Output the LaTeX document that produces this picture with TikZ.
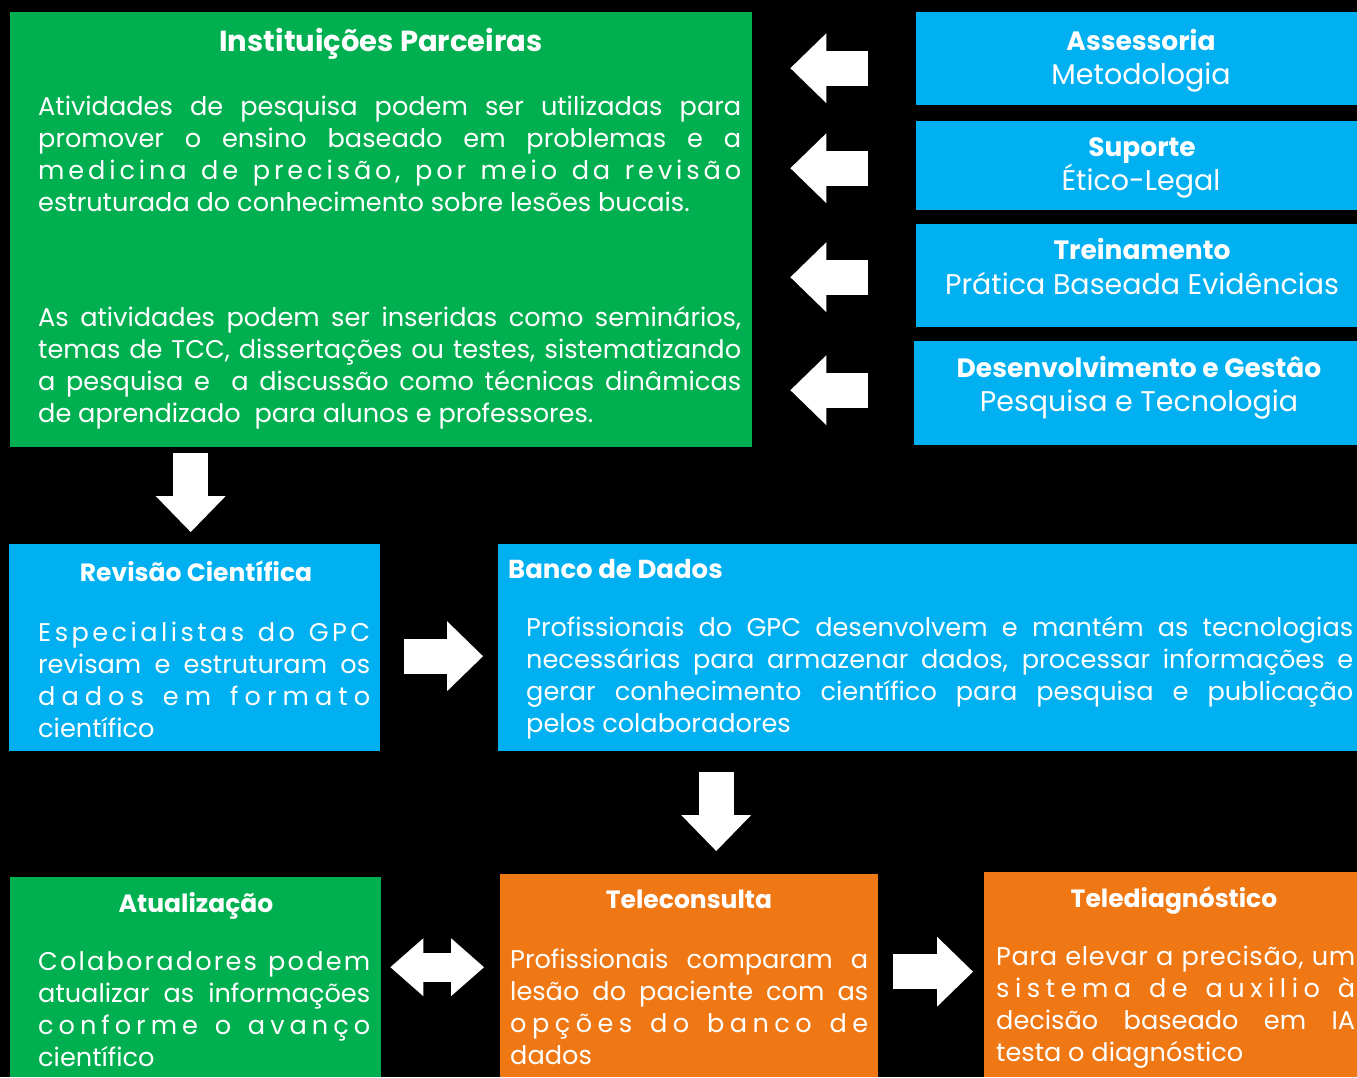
\documentclass[tikz,border=0pt]{standalone}
\usepackage{fontspec}
\setmainfont{Poppins}
\usetikzlibrary{arrows.meta}

\definecolor{gpcgreen}{HTML}{00B050}
\definecolor{gpcblue}{HTML}{00B0F0}
\definecolor{gpcorange}{HTML}{F07814}

\newcommand{\bodyfont}{\fontsize{25.6}{32}\selectfont}
% letter-spread line, as in the source slide
\newcommand{\sprd}[1]{\makebox[\linewidth][s]{\sprdfirst#1\relax}}
\def\sprdfirst#1{#1\sprdloop}
\def\sprdloop#1{\ifx#1\relax\else\hskip0pt plus1fil minus1fil\relax#1\expandafter\sprdloop\fi}

\tikzstyle{box} = [rectangle, inner sep=0pt, anchor=north west]
\tikzstyle{title} = [inner sep=0pt, anchor=base, text=white, font=\bfseries\fontsize{26.5}{30}\selectfont]
\tikzstyle{smalltitle} = [title, font=\bfseries\fontsize{25}{30}\selectfont]
\tikzstyle{sidetext} = [inner sep=0pt, anchor=base, text=white, font=\fontsize{28.5}{34}\selectfont]
\tikzstyle{para} = [inner sep=0pt, anchor=base west, text=white, align=justify, font=\bodyfont]
\tikzstyle{arrow} = [white, line width=35pt, -{Triangle[length=36pt, width=70pt, line width=0pt]}]
\tikzstyle{dblarrow} = [white, line width=29pt, {Triangle[length=33pt, width=58pt, line width=0pt]}-{Triangle[length=33pt, width=58pt, line width=0pt]}]

\begin{document}
\begin{tikzpicture}[x=1pt, y=-1pt]
            \useasboundingbox (0,0) rectangle (1357,1077);
            \fill [black] (0,0) rectangle (1357,1077);

            % boxes
            \node [box, fill=gpcgreen, minimum width=742pt, minimum height=435pt] at (10,12) (partners) {};
            \node [box, fill=gpcblue, minimum width=441pt, minimum height=93pt] at (916,12) (assess) {};
            \node [box, fill=gpcblue, minimum width=441pt, minimum height=89pt] at (916,121) (support) {};
            \node [box, fill=gpcblue, minimum width=441pt, minimum height=103pt] at (916,224) (training) {};
            \node [box, fill=gpcblue, minimum width=443pt, minimum height=104pt] at (914,341) (devel) {};
            \node [box, fill=gpcblue, minimum width=371pt, minimum height=207pt] at (9,544) (review) {};
            \node [box, fill=gpcblue, minimum width=859pt, minimum height=207pt] at (498,544) (database) {};
            \node [box, fill=gpcgreen, minimum width=371pt, minimum height=200pt] at (10,877) (update) {};
            \node [box, fill=gpcorange, minimum width=378pt, minimum height=203pt] at (500,874) (teleconsult) {};
            \node [box, fill=gpcorange, minimum width=373pt, minimum height=205pt] at (984,872) (telediag) {};

            % texts
            \node [title, font=\bfseries\fontsize{29}{30}\selectfont] at (381,51) (partnersT) {Instituições Parceiras};
            \node [para, text width=703pt] at (38,115) (partnersA) {Atividades de pesquisa podem ser utilizadas para\linebreak promover o ensino baseado em problemas e a\linebreak \sprd{medicina~de~precisão,~por~meio~da~revisão}\linebreak estruturada do conhecimento sobre lesões bucais.};
            \node [para, text width=703pt] at (38,326) (partnersB) {As atividades podem ser inseridas como seminários,\linebreak temas de TCC, dissertações ou testes, sistematizando\linebreak a pesquisa e\ \ a discussão como técnicas dinâmicas\linebreak de aprendizado\ \ para alunos e professores.};

            \node [title] at (1141,50) (assessT) {Assessoria};
            \node [sidetext] at (1141,84) (assessS) {Metodologia};
            \node [title] at (1142,156) (supportT) {Suporte};
            \node [sidetext] at (1141,190) (supportS) {Ético-Legal};
            \node [title] at (1142,259) (trainingT) {Treinamento};
            \node [sidetext] at (1142,294) (trainingS) {Prática Baseada Evidências};
            \node [title] at (1139,377) (develT) {Desenvolvimento e Gestâo};
            \node [sidetext] at (1139,411) (develS) {Pesquisa e Tecnologia};

            \node [smalltitle] at (196,581) (reviewT) {Revisão Científica};
            \node [para, text width=332pt] at (38,641) (reviewP) {\sprd{Especialistas~do~GPC}\linebreak revisam e estruturam os\linebreak \sprd{dados~em~formato}\linebreak científico};
            \node [smalltitle, anchor=base west, font=\bfseries\fontsize{26}{30}\selectfont] at (508,578) (databaseT) {Banco de Dados};
            \node [para, text width=827pt] at (526,636) (databaseP) {Profissionais do GPC desenvolvem e mantém as tecnologias\linebreak necessárias para armazenar dados, processar informações e\linebreak gerar conhecimento científico para pesquisa e publicação\linebreak pelos colaboradores};

            \node [smalltitle] at (196,912) (updateT) {Atualização};
            \node [para, text width=332pt] at (38,970) (updateP) {\sprd{Colaboradores~podem}\linebreak atualizar as informações\linebreak \sprd{conforme~o~avanço}\linebreak científico};
            \node [smalltitle] at (689,908) (teleconsultT) {Teleconsulta};
            \node [para, text width=358pt] at (510,968) (teleconsultP) {Profissionais comparam a\linebreak lesão do paciente com as\linebreak \sprd{opções~do~banco~de}\linebreak dados};
            \node [smalltitle] at (1174,907) (telediagT) {Telediagnóstico};
            \node [para, text width=359pt] at (996,965) (telediagP) {\sprd{Para~elevar~a~precisão,~um}\linebreak \sprd{sistema~de~auxilio~à}\linebreak decisão baseado em IA\linebreak testa o diagnóstico};

            % block arrows
            \draw [arrow, shorten <=48pt, shorten >=38pt] ([yshift=-9.5pt]assess.west) -- ([yshift=-9.5pt]assess.west -| partners.east);
            \draw [arrow, shorten <=48pt, shorten >=38pt] ([yshift=-2.5pt]support.west) -- ([yshift=-2.5pt]support.west -| partners.east);
            \draw [arrow, shorten <=48pt, shorten >=38pt] ([yshift=-1.5pt]training.west) -- ([yshift=-1.5pt]training.west -| partners.east);
            \draw [arrow, shorten <=46pt, shorten >=38pt] ([yshift=3pt]devel.west) -- ([yshift=3pt]devel.west -| partners.east);
            \draw [arrow, shorten <=6pt, shorten >=12pt] ([xshift=-4pt]review.north |- partners.south) -- ([xshift=-4pt]review.north);
            \draw [arrow, shorten <=24pt, shorten >=15pt] ([yshift=-8.5pt]review.east) -- ([yshift=-8.5pt]review.east -| database.west);
            \draw [arrow, shorten <=21pt, shorten >=23pt] ([xshift=27pt]teleconsult.north |- database.south) -- ([xshift=27pt]teleconsult.north);
            \draw [dblarrow, shorten <=9pt, shorten >=16pt] ([yshift=10pt]update.east) -- ([yshift=10pt]update.east -| teleconsult.west);
            \draw [arrow, shorten <=15pt, shorten >=11pt] ([yshift=4pt]teleconsult.east) -- ([yshift=4pt]teleconsult.east -| telediag.west);
\end{tikzpicture}
\end{document}
